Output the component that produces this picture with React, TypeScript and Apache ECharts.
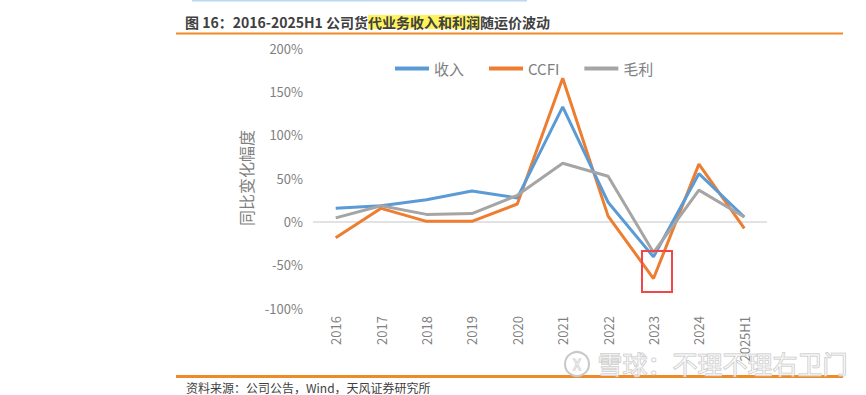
import React, { useEffect, useRef } from "react";
import * as echarts from "echarts";

const categories = ["2016", "2017", "2018", "2019", "2020", "2021", "2022", "2023", "2024", "2025H1"];
const revenue = [15, 18, 25, 35, 27, 132, 22, -41, 55, 5];
const ccfi = [-19, 15, 0, 0, 20, 165, 6, -66, 66, -8];
const grossProfit = [4, 18, 8, 9, 30, 67, 52, -36, 36, 5];
const seriesNames = ["收入", "CCFI", "毛利"];
const yTicks = { min: -100, max: 200, interval: 50 };

const FONT = '"Noto Sans CJK SC", "Noto Sans", sans-serif';

export default function App() {
  const ref = useRef<HTMLDivElement>(null);
  useEffect(() => {
    if (!ref.current) return;
    const chart = echarts.init(ref.current, null, { renderer: "svg" });
    const splitColors = [];
    for (let v = yTicks.min; v <= yTicks.max; v += yTicks.interval) {
      splitColors.push(v === 0 ? "#d9d9d9" : "rgba(0,0,0,0)");
    }
    chart.setOption({
      animation: false,
      textStyle: { fontFamily: FONT },
      grid: { left: 313, right: 99, top: 48, bottom: 87 },
      legend: {
        data: seriesNames,
        left: 390,
        top: 56,
        icon: "rect",
        itemWidth: 34,
        itemHeight: 4,
        itemGap: 25,
        textStyle: { fontSize: 15, color: "#7f7f7f", fontFamily: FONT },
      },
      xAxis: {
        type: "category",
        data: categories,
        boundaryGap: true,
        axisLine: { show: false },
        axisTick: { show: false },
        axisLabel: { rotate: 90, fontSize: 13, color: "#7f7f7f", margin: 8, fontFamily: FONT },
      },
      yAxis: {
        type: "value",
        min: yTicks.min,
        max: yTicks.max,
        interval: yTicks.interval,
        name: "同比变化幅度",
        nameLocation: "middle",
        nameRotate: 90,
        nameGap: 58,
        nameTextStyle: { fontSize: 16, color: "#7f7f7f", fontFamily: FONT },
        axisLine: { show: false },
        axisTick: { show: false },
        axisLabel: { formatter: "{value}%", fontSize: 13, color: "#7f7f7f", margin: 10, fontFamily: FONT },
        splitLine: { show: true, lineStyle: { color: splitColors, width: 1.5 } },
      },
      series: [
        { name: seriesNames[0], type: "line", data: revenue, symbol: "none", lineStyle: { width: 3, color: "#5B9BD5" }, itemStyle: { color: "#5B9BD5" }, z: 3 },
        { name: seriesNames[1], type: "line", data: ccfi, symbol: "none", lineStyle: { width: 3, color: "#ED7D31" }, itemStyle: { color: "#ED7D31" }, z: 2 },
        { name: seriesNames[2], type: "line", data: grossProfit, symbol: "none", lineStyle: { width: 3, color: "#A5A5A5" }, itemStyle: { color: "#A5A5A5" }, z: 4 },
      ],
      graphic: {
        elements: [
          { id: "topBlue", type: "rect", shape: { x: 192, y: 0, width: 335, height: 1.5 }, style: { fill: "#bdd7ee" } },
          {
            id: "title",
            type: "text",
            left: 185,
            top: 15,
            style: {
              text: "{a|图 16：2016-2025H1 公司货}{h|代业务收入和利润}{a|随运价波动}",
              rich: {
                a: { fontSize: 14, fontWeight: "bold", fill: "#404040", fontFamily: FONT, lineHeight: 16 },
                h: { fontSize: 14, fontWeight: "bold", fill: "#404040", fontFamily: FONT, backgroundColor: "#FFF35C", lineHeight: 16 },
              },
            },
          },
          { id: "topOrange", type: "rect", shape: { x: 176, y: 32.5, width: 667, height: 2 }, style: { fill: "#F08A24" } },
          { id: "redBox", type: "rect", shape: { x: 642, y: 251, width: 30, height: 41 }, style: { fill: "none", stroke: "#F04848", lineWidth: 2 }, z: 10 },
          { id: "source", type: "text", left: 186, top: 381, style: { text: "资料来源：公司公告，Wind，天风证券研究所", fontSize: 12, fill: "#404040", fontFamily: FONT } },
          { id: "wmCircle", type: "circle", shape: { cx: 577, cy: 364, r: 12 }, style: { fill: "rgba(255,255,255,0.6)", stroke: "#c8c8c8", lineWidth: 2 }, z: 40 },
          { id: "wmX", type: "text", x: 577, y: 364, style: { text: "X", fontSize: 14, fill: "rgba(255,255,255,0.6)", stroke: "#c8c8c8", lineWidth: 1, align: "center", verticalAlign: "middle", fontFamily: FONT }, z: 40 },
          { id: "wmText", type: "text", left: 597, top: 350, style: { text: "雪球：不理不理右卫门", fontSize: 25, fill: "rgba(255,255,255,0.55)", stroke: "#c4c4c4", lineWidth: 1, fontFamily: FONT }, z: 40 },
        ],
      },
    });
    return () => chart.dispose();
  }, []);
  return (
    <div style={{ position: "fixed", left: 0, top: 0, width: 866, height: 395, background: "#ffffff" }}>
      <div style={{ position: "absolute", left: 176, top: 375, width: 667, height: 2.5, background: "#F08A24" }} />
      <div ref={ref} style={{ position: "absolute", left: 0, top: 0, width: 866, height: 395 }} />
    </div>
  );
}
